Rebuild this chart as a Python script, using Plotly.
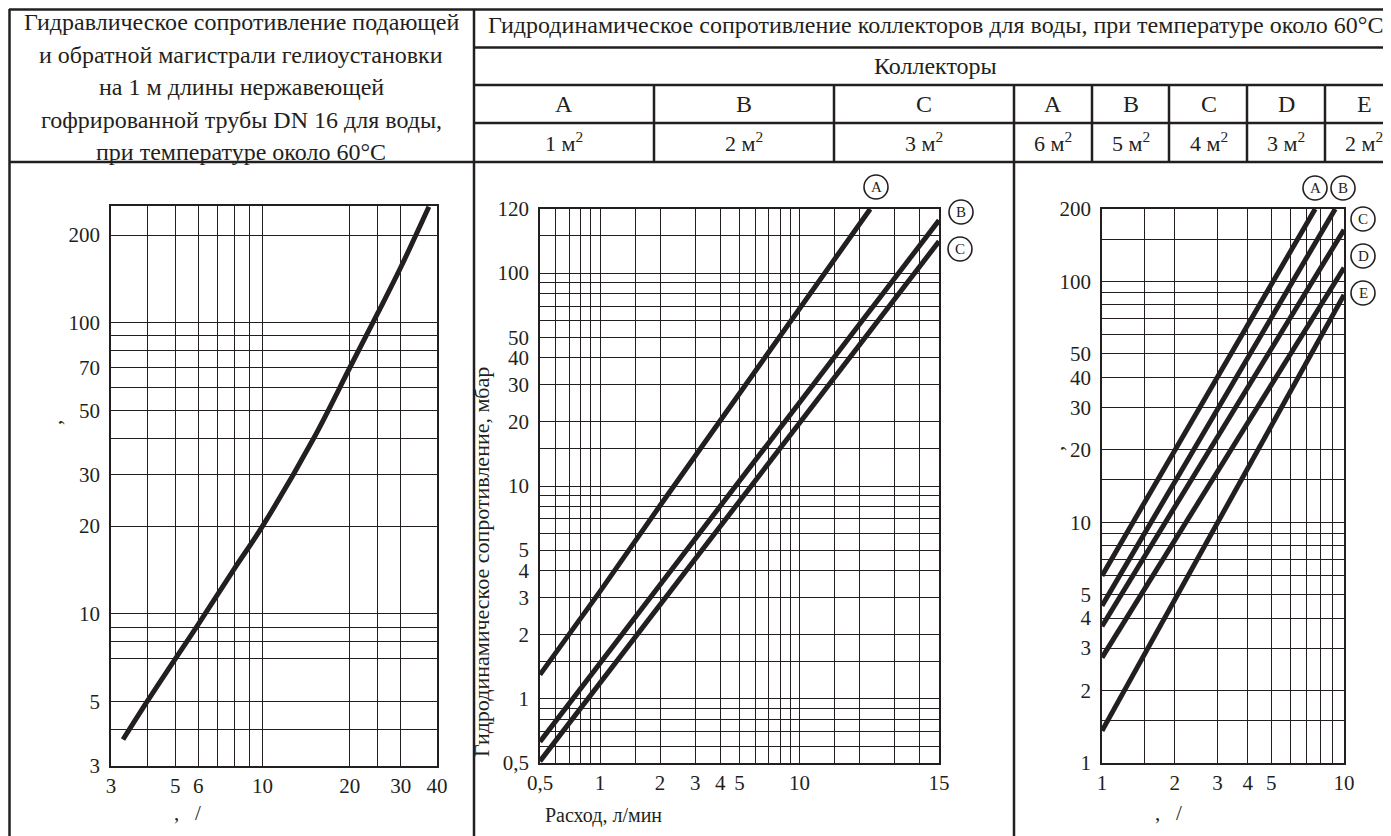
import math
import plotly.graph_objects as go

W, H = 1391, 836          # browser window
OFF = 8                   # default page margin around the figure
FW, FH = W - OFF, H - OFF  # figure size
INK = "#231f20"
FONT = "Liberation Serif"

# ---------------- data ----------------
# Left chart: pipe DN16 resistance per 1 m
pipe_flow = [3.3, 4, 5, 6, 8, 10, 15, 20, 25, 30, 37.5]
pipe_dp = [3.7, 5.0, 7.0, 9.2, 14.3, 20, 40, 70, 108, 155, 250]

# Middle chart: collectors A, B, C
mid_A_flow = [0.5, 1, 2, 5, 10, 22.6]
mid_A_dp = [1.3, 3.2, 8.1, 27, 68, 200]
mid_BC_flow = [0.5, 1, 2, 5, 10, 20, 50]
mid_B_dp = [0.63, 1.47, 3.44, 10.6, 24.8, 58, 177]
mid_C_dp = [0.51, 1.19, 2.77, 8.5, 19.7, 45.9, 141]

# Right chart: collectors A..E
right_A_flow = [1, 2, 3, 5, 7.6]
right_A_dp = [6.0, 19.9, 40, 97, 200]
right_B_flow = [1, 2, 3, 5, 9.2]
right_B_dp = [4.5, 14.7, 29.4, 70.5, 200]
right_CDE_flow = [1, 2, 3, 5, 10]
right_C_dp = [3.7, 11.6, 22.6, 52.4, 164]
right_D_dp = [2.74, 8.4, 16.3, 37.2, 114]
right_E_dp = [1.36, 4.8, 9.95, 25.1, 88]

# grid / tick definitions
left_x_vals = [3, 4, 5, 6, 7, 8, 9, 10, 20, 25, 30, 40]
left_x_text = ["3", "", "5", "6", "", "", "", "10", "20", "", "30", "40"]
left_y_vals = [3, 4, 5, 7, 8, 9, 10, 20, 30, 40, 50, 60, 70, 80, 90, 100, 200]
left_y_text = ["3", "", "5", "", "", "", "10", "20", "30", "", "50", "", "70", "", "", "100", "200"]

mid_x_vals = [0.5, 0.6, 0.7, 0.8, 0.9, 1, 1.5, 2, 3, 4, 5, 6, 7, 8, 9, 10, 15, 20, 30, 40, 50]
mid_x_text = ["0,5", "", "", "", "", "1", "", "2", "3", "4", "5", "", "", "", "", "10", "", "", "", "", "15"]
mid_y_vals = [0.5, 0.6, 0.7, 0.8, 0.9, 1, 1.5, 2, 3, 4, 5, 6, 7, 8, 9, 10, 15, 20, 30, 40, 50,
              60, 70, 80, 90, 100, 150, 200]
mid_y_text = ["0,5", "", "", "", "", "1", "", "2", "3", "4", "5", "", "", "", "", "10", "", "20", "30", "40", "50",
              "", "", "", "", "100", "", "120"]

right_x_vals = [1, 1.5, 2, 3, 4, 5, 6, 7, 8, 9, 10]
right_x_text = ["1", "", "2", "3", "4", "5", "", "", "", "", "10"]
right_y_vals = [1, 1.5, 2, 3, 4, 5, 6, 7, 8, 9, 10, 15, 20, 30, 40, 50, 60, 70, 80, 90, 100, 150, 200]
right_y_text = ["1", "", "2", "3", "4", "5", "", "", "", "", "10", "", "20", "30", "40", "50",
                "", "", "", "", "100", "", "200"]

# header texts
left_header = [
    "Гидравлическое сопротивление подающей",
    "и обратной магистрали гелиоустановки",
    "на 1 м длины нержавеющей",
    "гофрированной трубы DN 16 для воды,",
    "при температуре около 60°C",
]
right_title = "Гидродинамическое сопротивление коллекторов для воды, при температуре около 60°C"
collectors_title = "Коллекторы"
mid_letters = ["A", "B", "C"]
mid_areas = ["1 м<sup>2</sup>", "2 м<sup>2</sup>", "3 м<sup>2</sup>"]
right_letters = ["A", "B", "C", "D", "E"]
right_areas = ["6 м<sup>2</sup>", "5 м<sup>2</sup>", "4 м<sup>2</sup>", "3 м<sup>2</sup>", "2 м<sup>2</sup>"]


def px(x):
    return (x - OFF) / FW


def py(y):
    return 1 - (y - OFF) / FH


fig = go.Figure()
LW = 5
line = dict(color=INK, width=LW)

fig.add_trace(go.Scatter(x=pipe_flow, y=pipe_dp, mode="lines", line=dict(color=INK, width=LW, shape="spline"),
                         xaxis="x", yaxis="y", showlegend=False))
fig.add_trace(go.Scatter(x=mid_A_flow, y=mid_A_dp, mode="lines", line=line, xaxis="x2", yaxis="y2", showlegend=False))
fig.add_trace(go.Scatter(x=mid_BC_flow, y=mid_B_dp, mode="lines", line=line, xaxis="x2", yaxis="y2", showlegend=False))
fig.add_trace(go.Scatter(x=mid_BC_flow, y=mid_C_dp, mode="lines", line=line, xaxis="x2", yaxis="y2", showlegend=False))
fig.add_trace(go.Scatter(x=right_A_flow, y=right_A_dp, mode="lines", line=line, xaxis="x3", yaxis="y3", showlegend=False))
fig.add_trace(go.Scatter(x=right_B_flow, y=right_B_dp, mode="lines", line=line, xaxis="x3", yaxis="y3", showlegend=False))
for dp in (right_C_dp, right_D_dp, right_E_dp):
    fig.add_trace(go.Scatter(x=right_CDE_flow, y=dp, mode="lines", line=line, xaxis="x3", yaxis="y3", showlegend=False))

tickfont = dict(family=FONT, size=21, color=INK)


def axis(domain, rng, vals, text, anchor, is_x):
    return dict(
        domain=domain, type="log", range=rng, anchor=anchor,
        tickmode="array", tickvals=vals, ticktext=text,
        showgrid=True, gridcolor=INK, gridwidth=1.4,
        showline=True, linecolor=INK, linewidth=1.6, mirror=True,
        ticks="", tickfont=tickfont, zeroline=False, fixedrange=True,
        automargin=False,
        ticklabelstandoff=0 if is_x else 5,
    )


fig.update_layout(
    xaxis=axis([px(111), px(437)], [math.log10(3), math.log10(40)], left_x_vals, left_x_text, "y", True),
    yaxis=axis([py(766), py(206)], [math.log10(3), 2.4007], left_y_vals, left_y_text, "x", False),
    xaxis2=axis([px(540), px(939)], [math.log10(0.5), math.log10(50)], mid_x_vals, mid_x_text, "y2", True),
    yaxis2=axis([py(763), py(209)], [math.log10(0.5), math.log10(200)], mid_y_vals, mid_y_text, "x2", False),
    xaxis3=axis([px(1102), px(1344)], [0, 1], right_x_vals, right_x_text, "y3", True),
    yaxis3=axis([py(763), py(209)], [0, math.log10(200)], right_y_vals, right_y_text, "x3", False),
)

shapes = []


def hline(y, x0, x1):
    shapes.append(dict(type="line", xref="paper", yref="paper", x0=px(x0), x1=px(x1), y0=py(y), y1=py(y),
                       line=dict(color=INK, width=2.5)))


def vline(x, y0, y1):
    shapes.append(dict(type="line", xref="paper", yref="paper", x0=px(x), x1=px(x), y0=py(y0), y1=py(y1),
                       line=dict(color=INK, width=2.5)))


hline(9.5, 9, 1391)
hline(47.5, 474, 1391)
hline(85, 474, 1391)
hline(123, 474, 1391)
hline(162, 9, 1391)
vline(9.5, 9, 836)
vline(474, 9, 836)
vline(1014, 85, 836)
for xv in (654, 834):
    vline(xv, 85, 162)
for xv in (1092, 1169, 1247, 1325):
    vline(xv, 85, 162)

annotations = []


def text(x, y, s, size=21, angle=0, xanchor="center"):
    annotations.append(dict(x=px(x), y=py(y), xref="paper", yref="paper", text=s, showarrow=False,
                            xanchor=xanchor, yanchor="middle", textangle=angle,
                            font=dict(family=FONT, size=size, color=INK)))


HF = 24
for i, s in enumerate(left_header):
    text(241, 22 + i * 32.5, s, size=HF)
text(935, 25, right_title, size=HF)
text(935, 66, collectors_title, size=HF)
for i, (l, a) in enumerate(zip(mid_letters, mid_areas)):
    cx = 564 + i * 180
    text(cx, 104, l, size=HF)
    text(cx, 142, a, size=HF - 2)
for i, (l, a) in enumerate(zip(right_letters, right_areas)):
    cx = 1053 + i * 77.8
    text(cx, 104, l, size=HF)
    text(cx, 142, a, size=HF - 2)

# axis titles (as printed)
text(481, 562, "Гидродинамическое сопротивление, мбар", size=22, angle=-90)
text(543, 815, "Расход, л/мин", size=20, xanchor="left")
text(187, 813, ",   /")
text(1168, 813, ",   /")
text(54, 423, ",", angle=-90)
text(1056, 449, ",", angle=-90)


def circle_label(cx, cy, s):
    r = 12
    shapes.append(dict(type="circle", xref="paper", yref="paper", x0=px(cx - r), x1=px(cx + r),
                       y0=py(cy + r), y1=py(cy - r), line=dict(color=INK, width=1.6)))
    text(cx, cy, s, size=15)


mid_label_pos = [(876, 187), (961, 212), (960, 249)]
for (cx, cy), s in zip(mid_label_pos, mid_letters):
    circle_label(cx, cy, s)
right_label_pos = [(1315, 188), (1343, 188), (1363, 219), (1363, 256), (1363, 293)]
for (cx, cy), s in zip(right_label_pos, right_letters):
    circle_label(cx, cy, s)

fig.update_layout(
    width=FW, height=FH, autosize=False,
    margin=dict(l=0, r=0, t=0, b=0, pad=0, autoexpand=False),
    paper_bgcolor="white", plot_bgcolor="white",
    shapes=shapes, annotations=annotations, showlegend=False,
)

fig.write_html("out.html")
